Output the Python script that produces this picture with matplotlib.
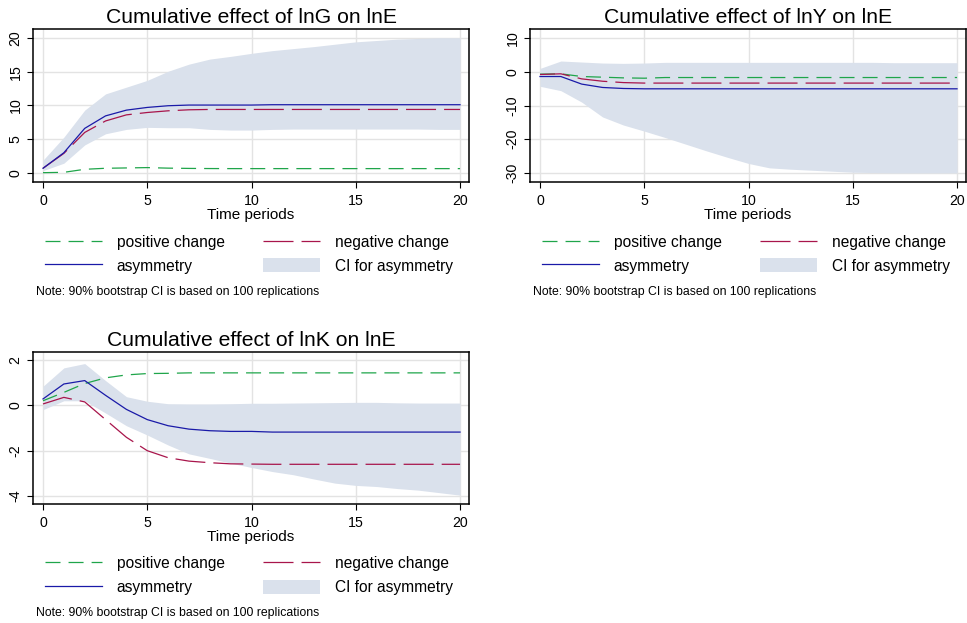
import matplotlib
matplotlib.use("Agg")
import matplotlib.pyplot as plt
import numpy as np

plt.rcParams['font.family'] = ['Liberation Sans', 'DejaVu Sans']
plt.rcParams['axes.unicode_minus'] = False
plt.rcParams['lines.scale_dashes'] = False

periods = list(range(21))

# lnG on lnE
g_pos = [0.05, 0.1, 0.55, 0.7, 0.75, 0.8, 0.72, 0.68, 0.66, 0.65, 0.65, 0.65, 0.65, 0.65, 0.65, 0.65, 0.65, 0.65, 0.65, 0.65, 0.65]
g_neg = [0.7, 2.9, 6.0, 7.7, 8.6, 8.95, 9.2, 9.35, 9.4, 9.4, 9.4, 9.4, 9.4, 9.4, 9.4, 9.4, 9.4, 9.4, 9.4, 9.4, 9.4]
g_asym = [0.7, 3.0, 6.6, 8.45, 9.3, 9.7, 9.95, 10.05, 10.05, 10.05, 10.05, 10.1, 10.1, 10.1, 10.1, 10.1, 10.1, 10.1, 10.1, 10.1, 10.1]
g_ci_hi = [1.9, 5.3, 9.3, 11.7, 12.7, 13.7, 15.05, 16.1, 16.85, 17.25, 17.7, 18.1, 18.4, 18.7, 19.05, 19.4, 19.6, 19.8, 19.9, 20.0, 20.0]
g_ci_lo = [0.35, 1.45, 4.15, 5.8, 6.45, 6.75, 6.7, 6.7, 6.45, 6.35, 6.35, 6.45, 6.5, 6.5, 6.5, 6.5, 6.5, 6.5, 6.5, 6.45, 6.45]

# lnY on lnE
y_pos = [-0.7, -0.6, -1.4, -1.6, -1.8, -1.9, -1.7, -1.7, -1.7, -1.7, -1.7, -1.7, -1.7, -1.7, -1.7, -1.7, -1.7, -1.7, -1.7, -1.7, -1.7]
y_neg = [-0.8, -0.6, -2.1, -2.8, -3.2, -3.35, -3.35, -3.35, -3.35, -3.35, -3.35, -3.35, -3.35, -3.35, -3.35, -3.35, -3.35, -3.35, -3.35, -3.35, -3.35]
y_asym = [-1.4, -1.4, -3.65, -4.65, -4.95, -5.05, -5.05, -5.05, -5.05, -5.05, -5.05, -5.05, -5.05, -5.05, -5.05, -5.05, -5.05, -5.05, -5.05, -5.05, -5.05]
y_ci_hi = [1.0, 3.2, 2.9, 2.6, 2.5, 2.6, 2.8, 2.8, 2.8, 2.8, 2.8, 2.8, 2.8, 2.8, 2.8, 2.8, 2.8, 2.7, 2.7, 2.7, 2.7]
y_ci_lo = [-4.3, -5.6, -9.0, -13.4, -15.8, -17.6, -19.5, -21.5, -23.5, -25.4, -27.2, -28.5, -28.9, -29.2, -29.5, -29.8, -29.9, -30.0, -30.0, -30.0, -30.0]

# lnK on lnE
k_pos = [0.2, 0.57, 0.96, 1.21, 1.34, 1.4, 1.41, 1.43, 1.43, 1.43, 1.43, 1.43, 1.43, 1.43, 1.43, 1.43, 1.43, 1.43, 1.43, 1.43, 1.43]
k_neg = [0.06, 0.35, 0.15, -0.63, -1.41, -2.0, -2.31, -2.46, -2.53, -2.58, -2.59, -2.6, -2.6, -2.6, -2.6, -2.6, -2.6, -2.6, -2.6, -2.6, -2.6]
k_asym = [0.28, 0.94, 1.09, 0.44, -0.18, -0.63, -0.9, -1.05, -1.12, -1.15, -1.15, -1.18, -1.18, -1.18, -1.18, -1.18, -1.18, -1.18, -1.18, -1.18, -1.18]
k_ci_hi = [0.84, 1.65, 1.84, 1.09, 0.38, 0.18, 0.07, 0.06, 0.06, 0.07, 0.09, 0.09, 0.1, 0.11, 0.12, 0.13, 0.13, 0.11, 0.1, 0.1, 0.1]
k_ci_lo = [-0.19, 0.2, 0.2, -0.34, -0.9, -1.31, -1.75, -2.14, -2.34, -2.55, -2.74, -2.92, -3.06, -3.25, -3.43, -3.53, -3.58, -3.67, -3.74, -3.85, -3.96]

titles = ["Cumulative effect of lnG on lnE", "Cumulative effect of lnY on lnE", "Cumulative effect of lnK on lnE"]
yticks_list = [[0, 5, 10, 15, 20], [10, 0, -10, -20, -30], [2, 0, -2, -4]]
ylims = [(-1.33, 21.3), (-32.7, 12.7), (-4.35, 2.35)]
xticks = [0, 5, 10, 15, 20]
legend_labels = ["positive change", "negative change", "asymmetry", "CI for asymmetry"]
note = "Note: 90% bootstrap CI is based on 100 replications"

C_POS = "#1fa54a"
C_NEG = "#a8154b"
C_ASYM = "#1a1aa8"
C_CI = "#dae1ec"
C_GRID = "#e3e3e3"

W, H = 967, 623
fig = plt.figure(figsize=(W / 100, H / 100), dpi=100)

def rect(l, t, r, b):
    return [l / W, 1 - b / H, (r - l) / W, (b - t) / H]

rects = [rect(33, 29, 469, 182), rect(530, 29, 966, 182), rect(33, 352, 469, 504)]
data = [(g_pos, g_neg, g_asym, g_ci_lo, g_ci_hi),
        (y_pos, y_neg, y_asym, y_ci_lo, y_ci_hi),
        (k_pos, k_neg, k_asym, k_ci_lo, k_ci_hi)]

for i in range(3):
    ax = fig.add_axes(rects[i])
    pos, neg, asym, lo, hi = data[i]
    ax.fill_between(periods, lo, hi, color=C_CI, lw=0, zorder=2)
    l_pos, = ax.plot(periods, pos, color=C_POS, lw=0.9, linestyle=(0, (10.8, 5.8)), zorder=3)
    l_neg, = ax.plot(periods, neg, color=C_NEG, lw=0.9, linestyle=(0, (21.6, 5.8)), zorder=3)
    l_asym, = ax.plot(periods, asym, color=C_ASYM, lw=0.9, zorder=4)
    ci_patch = plt.Rectangle((0, 0), 1, 1, color=C_CI, lw=0)

    ax.set_xlim(-0.48, 20.43)
    ax.set_ylim(*ylims[i])
    ax.set_xticks(xticks)
    ax.set_yticks(yticks_list[i])
    ax.set_yticklabels([str(v) for v in yticks_list[i]], rotation=90, va='center')
    ax.tick_params(axis='both', direction='out', length=4, width=0.8, labelsize=10.2, color='black')
    ax.tick_params(axis='x', pad=4.5)
    ax.tick_params(axis='y', pad=3.5)
    ax.grid(True, color=C_GRID, lw=1.0, zorder=0)
    ax.set_axisbelow(True)
    for s in ax.spines.values():
        s.set_linewidth(1.1)
        s.set_color('black')
    ax.set_title(titles[i], fontsize=15.2, pad=4.2)
    ax.set_xlabel("Time periods", fontsize=11, labelpad=0)

    # order so that rows read: positive/negative, asymmetry/CI
    handles = [l_pos, l_asym, l_neg, ci_patch]
    labels = [legend_labels[0], legend_labels[2], legend_labels[1], legend_labels[3]]
    ax.legend(handles, labels, ncol=2,
              loc='upper left', bbox_to_anchor=(12 / 436, -0.343),
              frameon=False, fontsize=11.2, handlelength=3.66, handleheight=0.96,
              handletextpad=0.96, columnspacing=2.44, labelspacing=0.57,
              borderpad=0, borderaxespad=0)
    ax.text(3 / 436, -0.72, note, transform=ax.transAxes, fontsize=8.8,
            ha='left', va='center')

fig.savefig("out.png", dpi=100)
